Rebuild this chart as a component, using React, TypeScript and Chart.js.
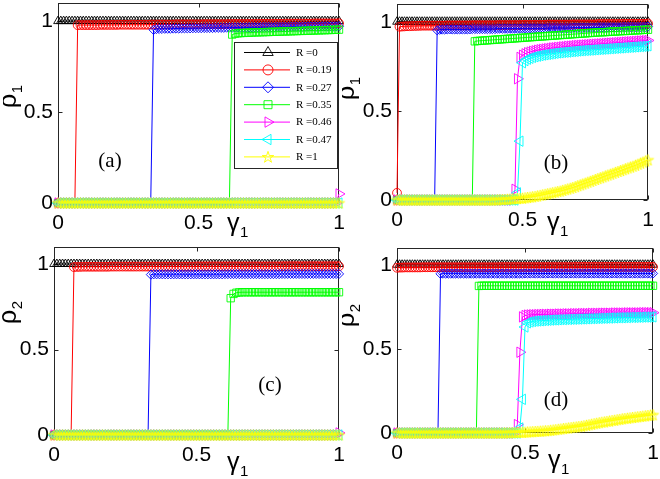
import React, { useEffect, useRef } from "react";
import { Chart, registerables } from "chart.js";
Chart.register(...registerables);

// ---- data ----
const GAMMA = [
  0, 0.01, 0.02, 0.03, 0.04, 0.05, 0.06, 0.07, 0.08, 0.09,
  0.1, 0.11, 0.12, 0.13, 0.14, 0.15, 0.16, 0.17, 0.18, 0.19,
  0.2, 0.21, 0.22, 0.23, 0.24, 0.25, 0.26, 0.27, 0.28, 0.29,
  0.3, 0.31, 0.32, 0.33, 0.34, 0.35, 0.36, 0.37, 0.38, 0.39,
  0.4, 0.41, 0.42, 0.43, 0.44, 0.45, 0.46, 0.47, 0.48, 0.49,
  0.5, 0.51, 0.52, 0.53, 0.54, 0.55, 0.56, 0.57, 0.58, 0.59,
  0.6, 0.61, 0.62, 0.63, 0.64, 0.65, 0.66, 0.67, 0.68, 0.69,
  0.7, 0.71, 0.72, 0.73, 0.74, 0.75, 0.76, 0.77, 0.78, 0.79,
  0.8, 0.81, 0.82, 0.83, 0.84, 0.85, 0.86, 0.87, 0.88, 0.89,
  0.9, 0.91, 0.92, 0.93, 0.94, 0.95, 0.96, 0.97, 0.98, 0.99,
  1,
];

const ONES = [
  1, 1, 1, 1, 1, 1, 1, 1, 1, 1,
  1, 1, 1, 1, 1, 1, 1, 1, 1, 1,
  1, 1, 1, 1, 1, 1, 1, 1, 1, 1,
  1, 1, 1, 1, 1, 1, 1, 1, 1, 1,
  1, 1, 1, 1, 1, 1, 1, 1, 1, 1,
  1, 1, 1, 1, 1, 1, 1, 1, 1, 1,
  1, 1, 1, 1, 1, 1, 1, 1, 1, 1,
  1, 1, 1, 1, 1, 1, 1, 1, 1, 1,
  1, 1, 1, 1, 1, 1, 1, 1, 1, 1,
  1, 1, 1, 1, 1, 1, 1, 1, 1, 1,
  1,
];

const ZEROS = [
  0, 0, 0, 0, 0, 0, 0, 0, 0, 0,
  0, 0, 0, 0, 0, 0, 0, 0, 0, 0,
  0, 0, 0, 0, 0, 0, 0, 0, 0, 0,
  0, 0, 0, 0, 0, 0, 0, 0, 0, 0,
  0, 0, 0, 0, 0, 0, 0, 0, 0, 0,
  0, 0, 0, 0, 0, 0, 0, 0, 0, 0,
  0, 0, 0, 0, 0, 0, 0, 0, 0, 0,
  0, 0, 0, 0, 0, 0, 0, 0, 0, 0,
  0, 0, 0, 0, 0, 0, 0, 0, 0, 0,
  0, 0, 0, 0, 0, 0, 0, 0, 0, 0,
  0,
];

// panel (a): rho_1
const A_RED = [
  0, 0, 0, 0, 0, 0, 0, .978, .978, .978,
  .978, .978, .978, .978, .978, .979, .979, .979, .979, .979,
  .979, .979, .98, .98, .98, .98, .98, .98, .98, .98,
  .98, .98, .98, .981, .981, .981, .981, .981, .981, .981,
  .981, .981, .982, .982, .982, .982, .982, .982, .982, .982,
  .982, .982, .983, .983, .983, .983, .983, .983, .983, .983,
  .983, .984, .984, .984, .984, .984, .984, .984, .984, .984,
  .984, .985, .985, .985, .985, .985, .985, .985, .985, .985,
  .985, .986, .986, .986, .986, .986, .986, .986, .986, .986,
  .986, .987, .987, .987, .987, .987, .987, .987, .987, .987,
  .988,
];
const A_BLUE = [
  0, 0, 0, 0, 0, 0, 0, 0, 0, 0,
  0, 0, 0, 0, 0, 0, 0, 0, 0, 0,
  0, 0, 0, 0, 0, 0, 0, 0, 0, 0,
  0, 0, 0, 0, .952, .956, .957, .957, .958, .958,
  .958, .959, .959, .959, .96, .96, .96, .96, .961, .961,
  .961, .961, .962, .962, .962, .962, .963, .963, .963, .963,
  .964, .964, .964, .964, .965, .965, .965, .965, .965, .966,
  .966, .966, .966, .967, .967, .967, .967, .967, .968, .968,
  .968, .968, .968, .969, .969, .969, .969, .969, .97, .97,
  .97, .97, .97, .97, .971, .971, .971, .971, .971, .971,
  .972,
];
const A_GREEN = [
  0, 0, 0, 0, 0, 0, 0, 0, 0, 0,
  0, 0, 0, 0, 0, 0, 0, 0, 0, 0,
  0, 0, 0, 0, 0, 0, 0, 0, 0, 0,
  0, 0, 0, 0, 0, 0, 0, 0, 0, 0,
  0, 0, 0, 0, 0, 0, 0, 0, 0, 0,
  0, 0, 0, 0, 0, 0, 0, 0, 0, 0,
  0, 0, .926, .931, .933, .934, .935, .936, .936, .937,
  .938, .938, .939, .939, .94, .94, .941, .941, .942, .942,
  .943, .943, .944, .944, .945, .945, .946, .946, .947, .947,
  .948, .948, .949, .949, .95, .95, .951, .951, .952, .952,
  .953,
];
const A_MAG = [
  0, 0, 0, 0, 0, 0, 0, 0, 0, 0,
  0, 0, 0, 0, 0, 0, 0, 0, 0, 0,
  0, 0, 0, 0, 0, 0, 0, 0, 0, 0,
  0, 0, 0, 0, 0, 0, 0, 0, 0, 0,
  0, 0, 0, 0, 0, 0, 0, 0, 0, 0,
  0, 0, 0, 0, 0, 0, 0, 0, 0, 0,
  0, 0, 0, 0, 0, 0, 0, 0, 0, 0,
  0, 0, 0, 0, 0, 0, 0, 0, 0, 0,
  0, 0, 0, 0, 0, 0, 0, 0, 0, 0,
  0, 0, 0, 0, 0, 0, 0, 0, 0, 0,
  .05,
];

// panel (b): rho_1
const B_RED = [
  .04, .972, .973, .974, .975, .975, .976, .976, .977, .977,
  .978, .978, .978, .978, .978, .978, .978, .978, .978, .978,
  .979, .979, .979, .979, .979, .979, .979, .979, .979, .979,
  .98, .98, .98, .98, .98, .98, .98, .98, .98, .98,
  .981, .981, .981, .981, .981, .981, .981, .981, .981, .981,
  .982, .982, .982, .982, .982, .982, .982, .982, .982, .982,
  .984, .984, .984, .984, .984, .984, .984, .984, .984, .984,
  .985, .985, .985, .985, .985, .985, .985, .985, .985, .985,
  .987, .987, .987, .987, .987, .987, .987, .987, .987, .987,
  .988, .988, .988, .988, .988, .988, .988, .988, .988, .988,
  .99,
];
const B_BLUE = [
  0, 0, 0, 0, 0, 0, 0, 0, 0, 0,
  0, 0, 0, 0, 0, 0, .952, .955, .956, .956,
  .957, .957, .957, .957, .957, .957, .957, .957, .957, .957,
  .959, .959, .959, .959, .959, .959, .959, .959, .959, .959,
  .961, .961, .961, .961, .961, .961, .961, .961, .961, .961,
  .963, .963, .963, .963, .963, .963, .963, .963, .963, .963,
  .965, .965, .965, .965, .965, .965, .965, .965, .965, .965,
  .967, .967, .967, .967, .967, .967, .967, .967, .967, .967,
  .969, .969, .969, .969, .969, .969, .969, .969, .969, .969,
  .971, .971, .971, .971, .971, .971, .971, .971, .971, .971,
  .973,
];
const B_GREEN = [
  0, 0, 0, 0, 0, 0, 0, 0, 0, 0,
  0, 0, 0, 0, 0, 0, 0, 0, 0, 0,
  0, 0, 0, 0, 0, 0, 0, 0, 0, 0,
  0, .89, .892, .893, .894, .895, .896, .897, .898, .899,
  .9, .901, .902, .903, .904, .905, .906, .907, .908, .909,
  .91, .911, .912, .913, .914, .915, .916, .917, .918, .919,
  .92, .921, .922, .923, .924, .925, .926, .927, .928, .929,
  .93, .931, .932, .933, .934, .935, .936, .937, .938, .939,
  .94, .941, .941, .942, .943, .944, .945, .945, .946, .947,
  .948, .948, .949, .95, .951, .952, .952, .953, .954, .955,
  .955,
];
const B_MAG = [
  0, 0, 0, 0, 0, 0, 0, 0, 0, 0,
  0, 0, 0, 0, 0, 0, 0, 0, 0, 0,
  0, 0, 0, 0, 0, 0, 0, 0, 0, 0,
  0, 0, 0, 0, 0, 0, 0, 0, 0, 0,
  0, 0, 0, 0, 0, 0, 0, .06, .68, .8,
  .812, .82, .826, .83, .834, .837, .84, .843, .845, .847,
  .849, .851, .853, .854, .856, .857, .859, .86, .862, .863,
  .864, .866, .867, .868, .869, .87, .871, .872, .873, .874,
  .875, .876, .877, .878, .879, .88, .881, .882, .883, .884,
  .885, .886, .887, .888, .889, .89, .891, .892, .893, .894,
  .895,
];
const B_CYAN = [
  0, 0, 0, 0, 0, 0, 0, 0, 0, 0,
  0, 0, 0, 0, 0, 0, 0, 0, 0, 0,
  0, 0, 0, 0, 0, 0, 0, 0, 0, 0,
  0, 0, 0, 0, 0, 0, 0, 0, 0, 0,
  0, 0, 0, 0, 0, 0, 0, 0, .04, .33,
  .77, .782, .79, .795, .8, .804, .807, .81, .813, .815,
  .817, .819, .821, .823, .825, .826, .828, .829, .83, .832,
  .833, .834, .836, .837, .838, .839, .84, .841, .842, .843,
  .844, .845, .846, .847, .848, .849, .85, .851, .852, .853,
  .854, .855, .856, .857, .858, .859, .86, .861, .862, .863,
  .865,
];
const B_YEL = [
  0, 0, 0, 0, 0, 0, 0, 0, 0, 0,
  0, 0, 0, 0, 0, 0, 0, 0, 0, 0,
  0, 0, 0, 0, 0, 0, 0, 0, 0, 0,
  0, 0, 0, 0, 0, 0, 0, 0, 0, 0,
  .001, .002, .002, .003, .004, .005, .006, .007, .008, .009,
  .01, .012, .014, .016, .018, .02, .023, .026, .029, .032,
  .035, .038, .041, .044, .047, .05, .054, .058, .062, .066,
  .07, .075, .08, .085, .09, .095, .1, .105, .11, .115,
  .12, .125, .13, .135, .14, .145, .15, .155, .16, .165,
  .17, .175, .18, .185, .19, .195, .201, .207, .213, .219,
  .225,
];

// panel (c): rho_2
const C_RED = [
  0, 0, 0, 0, 0, 0, 0, .982, .983, .983,
  .984, .984, .984, .984, .984, .984, .984, .984, .984, .984,
  .985, .985, .985, .985, .985, .985, .985, .985, .985, .985,
  .985, .985, .985, .985, .985, .985, .985, .985, .985, .985,
  .985, .985, .985, .985, .985, .985, .985, .985, .985, .985,
  .986, .986, .986, .986, .986, .986, .986, .986, .986, .986,
  .986, .986, .986, .986, .986, .986, .986, .986, .986, .986,
  .986, .986, .986, .986, .986, .986, .986, .986, .986, .986,
  .987, .987, .987, .987, .987, .987, .987, .987, .987, .987,
  .987, .987, .987, .987, .987, .987, .987, .987, .987, .987,
  .987,
];
const C_BLUE = [
  0, 0, 0, 0, 0, 0, 0, 0, 0, 0,
  0, 0, 0, 0, 0, 0, 0, 0, 0, 0,
  0, 0, 0, 0, 0, 0, 0, 0, 0, 0,
  0, 0, 0, 0, .938, .94, .94, .94, .94, .94,
  .94, .94, .94, .94, .94, .94, .94, .94, .94, .94,
  .94, .94, .94, .94, .94, .94, .94, .94, .94, .94,
  .941, .941, .941, .941, .941, .941, .941, .941, .941, .941,
  .941, .941, .941, .941, .941, .941, .941, .941, .941, .941,
  .942, .942, .942, .942, .942, .942, .942, .942, .942, .942,
  .942, .942, .942, .942, .942, .942, .942, .942, .942, .942,
  .942,
];
const C_GREEN = [
  0, 0, 0, 0, 0, 0, 0, 0, 0, 0,
  0, 0, 0, 0, 0, 0, 0, 0, 0, 0,
  0, 0, 0, 0, 0, 0, 0, 0, 0, 0,
  0, 0, 0, 0, 0, 0, 0, 0, 0, 0,
  0, 0, 0, 0, 0, 0, 0, 0, 0, 0,
  0, 0, 0, 0, 0, 0, 0, 0, 0, 0,
  0, 0, .8, .825, .832, .834, .835, .835, .835, .835,
  .835, .835, .835, .835, .835, .835, .835, .835, .835, .835,
  .835, .835, .835, .835, .835, .835, .835, .835, .835, .835,
  .835, .835, .835, .835, .835, .835, .835, .835, .835, .835,
  .835,
];
const C_MAG = [
  0, 0, 0, 0, 0, 0, 0, 0, 0, 0,
  0, 0, 0, 0, 0, 0, 0, 0, 0, 0,
  0, 0, 0, 0, 0, 0, 0, 0, 0, 0,
  0, 0, 0, 0, 0, 0, 0, 0, 0, 0,
  0, 0, 0, 0, 0, 0, 0, 0, 0, 0,
  0, 0, 0, 0, 0, 0, 0, 0, 0, 0,
  0, 0, 0, 0, 0, 0, 0, 0, 0, 0,
  0, 0, 0, 0, 0, 0, 0, 0, 0, 0,
  0, 0, 0, 0, 0, 0, 0, 0, 0, 0,
  0, 0, 0, 0, 0, 0, 0, 0, 0, 0,
  .012,
];

// panel (d): rho_2
const D_RED = [
  .982, .983, .983, .984, .984, .984, .984, .984, .984, .984,
  .985, .985, .985, .985, .985, .985, .985, .985, .985, .985,
  .985, .985, .985, .985, .985, .985, .985, .985, .985, .985,
  .985, .985, .985, .985, .985, .985, .985, .985, .985, .985,
  .986, .986, .986, .986, .986, .986, .986, .986, .986, .986,
  .986, .986, .986, .986, .986, .986, .986, .986, .986, .986,
  .986, .986, .986, .986, .986, .986, .986, .986, .986, .986,
  .987, .987, .987, .987, .987, .987, .987, .987, .987, .987,
  .987, .987, .987, .987, .987, .987, .987, .987, .987, .987,
  .987, .987, .987, .987, .987, .987, .987, .987, .987, .987,
  .987,
];
const D_BLUE = [
  0, 0, 0, 0, 0, 0, 0, 0, 0, 0,
  0, 0, 0, 0, 0, 0, 0, .946, .947, .947,
  .947, .947, .947, .947, .947, .947, .947, .947, .947, .947,
  .947, .947, .947, .947, .947, .947, .947, .947, .947, .947,
  .947, .947, .947, .947, .947, .947, .947, .947, .947, .947,
  .948, .948, .948, .948, .948, .948, .948, .948, .948, .948,
  .948, .948, .948, .948, .948, .948, .948, .948, .948, .948,
  .948, .948, .948, .948, .948, .948, .948, .948, .948, .948,
  .948, .948, .948, .948, .948, .948, .948, .948, .948, .948,
  .948, .948, .948, .948, .948, .948, .948, .948, .948, .948,
  .948,
];
const D_GREEN = [
  0, 0, 0, 0, 0, 0, 0, 0, 0, 0,
  0, 0, 0, 0, 0, 0, 0, 0, 0, 0,
  0, 0, 0, 0, 0, 0, 0, 0, 0, 0,
  0, 0, .874, .875, .875, .875, .875, .875, .875, .875,
  .875, .875, .875, .875, .875, .875, .875, .875, .875, .875,
  .875, .875, .875, .875, .875, .875, .875, .875, .875, .875,
  .875, .875, .875, .875, .875, .875, .875, .875, .875, .875,
  .875, .875, .875, .875, .875, .875, .875, .875, .875, .875,
  .875, .875, .875, .875, .875, .875, .875, .875, .875, .875,
  .875, .875, .875, .875, .875, .875, .875, .875, .875, .875,
  .875,
];
const D_MAG = [
  0, 0, 0, 0, 0, 0, 0, 0, 0, 0,
  0, 0, 0, 0, 0, 0, 0, 0, 0, 0,
  0, 0, 0, 0, 0, 0, 0, 0, 0, 0,
  0, 0, 0, 0, 0, 0, 0, 0, 0, 0,
  0, 0, 0, 0, 0, 0, 0, .05, .48, .69,
  .698, .701, .702, .703, .703, .704, .704, .705, .705, .705,
  .706, .706, .706, .707, .707, .707, .708, .708, .708, .709,
  .709, .709, .71, .71, .71, .71, .711, .711, .711, .711,
  .712, .712, .712, .712, .712, .713, .713, .713, .713, .713,
  .714, .714, .714, .714, .714, .714, .715, .715, .715, .715,
  .715,
];
const D_CYAN = [
  0, 0, 0, 0, 0, 0, 0, 0, 0, 0,
  0, 0, 0, 0, 0, 0, 0, 0, 0, 0,
  0, 0, 0, 0, 0, 0, 0, 0, 0, 0,
  0, 0, 0, 0, 0, 0, 0, 0, 0, 0,
  0, 0, 0, 0, 0, 0, 0, 0, .03, .2,
  .63, .655, .66, .663, .665, .666, .667, .668, .669, .67,
  .671, .672, .672, .673, .674, .674, .675, .675, .676, .676,
  .677, .677, .678, .678, .679, .679, .68, .68, .681, .681,
  .682, .682, .683, .683, .684, .684, .685, .685, .685, .686,
  .686, .687, .687, .687, .688, .688, .689, .689, .689, .69,
  .69,
];
const D_YEL = [
  0, 0, 0, 0, 0, 0, 0, 0, 0, 0,
  0, 0, 0, 0, 0, 0, 0, 0, 0, 0,
  0, 0, 0, 0, 0, 0, 0, 0, 0, 0,
  0, 0, 0, 0, 0, 0, 0, 0, 0, 0,
  0, 0, .001, .001, .001, .002, .002, .003, .003, .004,
  .005, .006, .007, .008, .009, .01, .011, .012, .013, .014,
  .016, .018, .02, .022, .024, .026, .028, .03, .032, .034,
  .036, .038, .04, .043, .046, .049, .052, .055, .058, .061,
  .064, .066, .069, .071, .074, .076, .079, .081, .084, .086,
  .088, .09, .092, .094, .096, .098, .1, .102, .104, .106,
  .108,
];

const R_LABELS = ["R =0", "R =0.19", "R =0.27", "R =0.35", "R =0.46", "R =0.47", "R =1"];
const X_TICKS = [0, 0.5, 1];
const Y_TICKS = [0, 0.5, 1];

// ---- styles ----
const COLORS = ["#000000", "#ff0000", "#0000ff", "#00ff00", "#ff00ff", "#00ffff", "#ffff00"];
const STYLES = ["triangle", "circle", "rectRot", "rect", "triangle", "triangle", "star5"];
const ROTS = [0, 0, 0, 0, 90, -90, 0];
const RADII = [5, 4.4, 4.6, 5.2, 6, 6, 6];
const TICK_FONT = "'Liberation Sans', Arial, sans-serif";
const SERIF = "'Liberation Serif', 'Times New Roman', serif";

const PAD_L = 55, PAD_T = 6, PAD_R = 10, PAD_B = 42;

const PANELS = [
  { key: "a", L: 58, T: 2, R: 339, B: 203, sub: "1", tag: "(a)", tagX: 110, tagY: 161,
    gX: 227, gY: 231, rX: 16, rY: 108, legend: true,
    series: [ONES, A_RED, A_BLUE, A_GREEN, A_MAG, ZEROS, ZEROS] },
  { key: "b", L: 397, T: 3, R: 648, B: 200, sub: "1", tag: "(b)", tagX: 556, tagY: 163,
    gX: 547, gY: 230, rX: 354, rY: 100, legend: false,
    series: [ONES, B_RED, B_BLUE, B_GREEN, B_MAG, B_CYAN, B_YEL] },
  { key: "c", L: 54, T: 246, R: 339, B: 435, sub: "2", tag: "(c)", tagX: 270, tagY: 385,
    gX: 227, gY: 470, rX: 16, rY: 324, legend: false,
    series: [ONES, C_RED, C_BLUE, C_GREEN, C_MAG, ZEROS, ZEROS] },
  { key: "d", L: 397, T: 247, R: 653, B: 433, sub: "2", tag: "(d)", tagX: 556, tagY: 400,
    gX: 548, gY: 468, rX: 354, rY: 327, legend: false,
    series: [ONES, D_RED, D_BLUE, D_GREEN, D_MAG, D_CYAN, D_YEL] },
];

function starPath(ctx: CanvasRenderingContext2D, cx: number, cy: number, r: number) {
  const ri = r * 0.382;
  ctx.beginPath();
  for (let k = 0; k < 10; k++) {
    const rr = k % 2 === 0 ? r : ri;
    const a = -Math.PI / 2 + (k * Math.PI) / 5;
    const px = cx + rr * Math.cos(a), py = cy + rr * Math.sin(a);
    if (k === 0) ctx.moveTo(px, py); else ctx.lineTo(px, py);
  }
  ctx.closePath();
}

function makeStarCanvas(r: number, color: string) {
  const c = document.createElement("canvas");
  const s = Math.ceil(r * 2 + 3);
  c.width = s; c.height = s;
  const g = c.getContext("2d")!;
  g.strokeStyle = color; g.lineWidth = 0.9;
  starPath(g, s / 2, s / 2 + 0.5, r);
  g.stroke();
  return c;
}

function drawLegendMarker(ctx: CanvasRenderingContext2D, i: number, x: number, y: number) {
  ctx.beginPath();
  const tri = (r: number, rot: number) => {
    for (let k = 0; k < 3; k++) {
      const a = rot + (k * 2 * Math.PI) / 3;
      const px = x + r * Math.sin(a), py = y - r * Math.cos(a);
      if (k === 0) ctx.moveTo(px, py); else ctx.lineTo(px, py);
    }
    ctx.closePath();
  };
  if (i === 0) tri(6, 0);
  else if (i === 1) ctx.arc(x, y, 5, 0, Math.PI * 2);
  else if (i === 2) { ctx.moveTo(x, y - 5.5); ctx.lineTo(x + 5.5, y); ctx.lineTo(x, y + 5.5); ctx.lineTo(x - 5.5, y); ctx.closePath(); }
  else if (i === 3) ctx.rect(x - 4, y - 4, 8, 8);
  else if (i === 4) tri(6, Math.PI / 2);
  else if (i === 5) tri(6, -Math.PI / 2);
  else if (i === 6) starPath(ctx, x, y + 0.5, 6);
  ctx.stroke();
}

function PanelChart({ p }: { p: any }) {
  const ref = useRef<HTMLCanvasElement>(null);
  const cl = p.L - PAD_L, ct = p.T - PAD_T;
  const W = p.R - p.L + PAD_L + PAD_R, H = p.B - p.T + PAD_T + PAD_B;

  useEffect(() => {
    const canvas = ref.current!;
    const star = makeStarCanvas(RADII[6], COLORS[6]);
    const datasets = p.series.map((ys: number[], i: number) => ({
      label: R_LABELS[i],
      data: GAMMA.map((x, j) => ({ x, y: ys[j] })),
      showLine: true,
      borderColor: COLORS[i],
      backgroundColor: "rgba(0,0,0,0)",
      borderWidth: 1,
      pointStyle: i === 6 ? star : STYLES[i],
      pointRotation: ROTS[i],
      pointRadius: RADII[i],
      pointHoverRadius: RADII[i],
      pointBorderWidth: 0.9,
      pointBorderColor: COLORS[i],
      pointBackgroundColor: "rgba(0,0,0,0)",
      tension: 0,
      clip: false,
      order: 6 - i,
    }));

    const plugin = {
      id: "frame_" + p.key,
      beforeDatasetsDraw(chart: any) {
        const { ctx, chartArea: a, scales } = chart;
        ctx.save();
        ctx.strokeStyle = "#262626";
        ctx.lineWidth = 1;
        const l = Math.round(a.left) + 0.5, t = Math.round(a.top) + 0.5;
        const r = Math.round(a.right) - 0.5, b = Math.round(a.bottom) - 0.5;
        ctx.strokeRect(l, t, r - l, b - t);
        ctx.beginPath();
        X_TICKS.forEach((v) => {
          const px = Math.round(scales.x.getPixelForValue(v)) + 0.5;
          ctx.moveTo(px, b); ctx.lineTo(px, b - 4);
          ctx.moveTo(px, t); ctx.lineTo(px, t + 4);
        });
        Y_TICKS.forEach((v) => {
          const py = Math.round(scales.y.getPixelForValue(v)) + 0.5;
          ctx.moveTo(l, py); ctx.lineTo(l + 4, py);
          ctx.moveTo(r, py); ctx.lineTo(r - 4, py);
        });
        ctx.stroke();
        ctx.restore();
      },
      afterDraw(chart: any) {
        const ctx: CanvasRenderingContext2D = chart.ctx;
        ctx.save();
        ctx.fillStyle = "#000";
        // x label gamma_1
        ctx.textAlign = "left";
        ctx.textBaseline = "alphabetic";
        ctx.font = `25px ${TICK_FONT}`;
        const gx = p.gX - cl, gy = p.gY - ct;
        ctx.fillText("γ", gx, gy);
        const gw = ctx.measureText("γ").width;
        ctx.font = `15px ${TICK_FONT}`;
        ctx.fillText("1", gx + gw + 0.5, gy + 6);
        // y label rho_k
        ctx.save();
        ctx.translate(p.rX - cl, p.rY - ct);
        ctx.rotate(-Math.PI / 2);
        ctx.font = `25px ${TICK_FONT}`;
        ctx.fillText("ρ", 0, 0);
        const rw = ctx.measureText("ρ").width;
        ctx.font = `15px ${TICK_FONT}`;
        ctx.fillText(p.sub, rw + 0.5, 6);
        ctx.restore();
        // panel tag
        ctx.font = `21px ${SERIF}`;
        ctx.textAlign = "center";
        ctx.textBaseline = "middle";
        ctx.fillText(p.tag, p.tagX - cl, p.tagY - ct);
        // legend
        if (p.legend) {
          const bl = 234.5 - cl, bt = 42.5 - ct, br = 337.5 - cl, bb = 168.5 - ct;
          ctx.fillStyle = "#ffffff";
          ctx.fillRect(bl, bt, br - bl, bb - bt);
          ctx.strokeStyle = "#262626";
          ctx.lineWidth = 1;
          ctx.strokeRect(bl, bt, br - bl, bb - bt);
          R_LABELS.forEach((lab, i) => {
            const y = 52.5 + i * 17.4 - ct;
            ctx.strokeStyle = COLORS[i];
            ctx.lineWidth = 1;
            ctx.beginPath();
            ctx.moveTo(244 - cl, y); ctx.lineTo(290 - cl, y);
            ctx.stroke();
            ctx.lineWidth = 0.9;
            drawLegendMarker(ctx, i, 268 - cl, y);
            ctx.fillStyle = "#000";
            ctx.font = `11px ${SERIF}`;
            ctx.textAlign = "left";
            ctx.textBaseline = "middle";
            ctx.fillText(lab, 296 - cl, y + 0.5);
          });
        }
        ctx.restore();
      },
    };

    const chart = new Chart(canvas, {
      type: "scatter",
      data: { datasets },
      options: {
        animation: false,
        responsive: false,
        maintainAspectRatio: false,
        events: [],
        layout: { padding: { top: PAD_T, right: PAD_R, left: 0, bottom: 0 } },
        plugins: { legend: { display: false }, tooltip: { enabled: false }, title: { display: false } },
        scales: {
          x: {
            type: "linear", min: 0, max: 1,
            grid: { display: false, drawTicks: false },
            border: { display: false },
            ticks: {
              font: { family: TICK_FONT, size: 21 }, color: "#000", padding: 8,
              maxRotation: 0, autoSkip: false,
              callback: (v: any) => String(v),
            },
            afterBuildTicks: (s: any) => { s.ticks = X_TICKS.map((v) => ({ value: v })); },
            afterFit: (s: any) => { s.height = PAD_B; s.paddingLeft = 0; s.paddingRight = 0; },
          },
          y: {
            type: "linear", min: 0, max: 1.1,
            grid: { display: false, drawTicks: false },
            border: { display: false },
            ticks: {
              font: { family: TICK_FONT, size: 21 }, color: "#000", padding: 5,
              autoSkip: false,
              callback: (v: any) => String(v),
            },
            afterBuildTicks: (s: any) => { s.ticks = Y_TICKS.map((v) => ({ value: v })); },
            afterFit: (s: any) => { s.width = PAD_L; s.paddingTop = 0; s.paddingBottom = 0; },
          },
        },
      } as any,
      plugins: [plugin],
    });
    return () => chart.destroy();
  }, []);

  return (
    <canvas
      ref={ref}
      width={W}
      height={H}
      style={{ position: "absolute", left: cl, top: ct, width: W, height: H }}
    />
  );
}

export default function App() {
  return (
    <div style={{ position: "absolute", left: 0, top: 0, width: 660, height: 479, overflow: "hidden", background: "#fff" }}>
      {PANELS.map((p) => <PanelChart key={p.key} p={p} />)}
    </div>
  );
}
